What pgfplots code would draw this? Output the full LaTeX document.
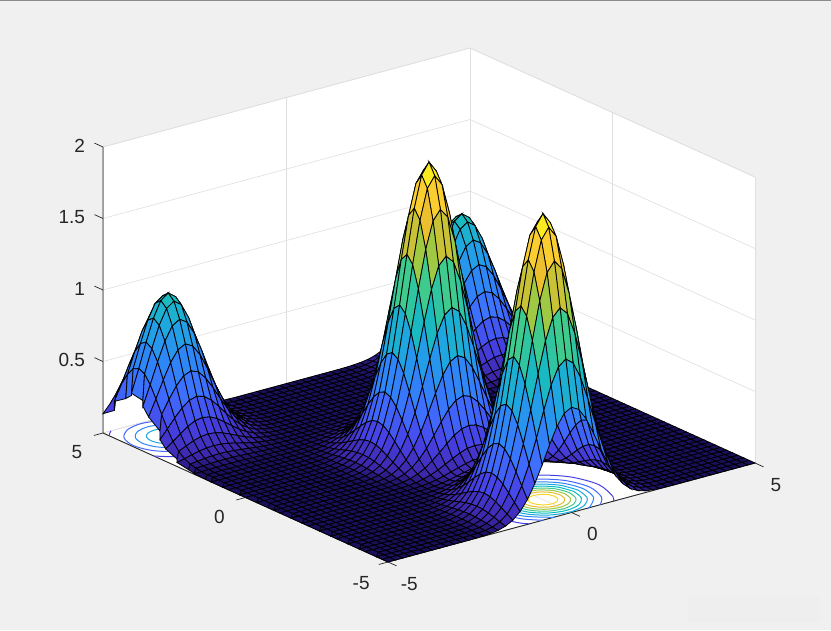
\documentclass[border=0pt]{standalone}
\usepackage{fontspec}
\setmainfont{Liberation Sans}
\usepackage{pgfplots}
\pgfplotsset{compat=1.18}
\definecolor{figbg}{HTML}{F0F0F0}
\definecolor{wmark}{HTML}{EEEEEE}
\definecolor{axdark}{HTML}{262626}
\definecolor{gridc}{HTML}{DFDFDF}
\definecolor{c1}{rgb}{.2783,.2559,.8991}
\definecolor{c2}{rgb}{.2640,.4000,.9930}
\definecolor{c3}{rgb}{.1786,.5289,.9682}
\definecolor{c4}{rgb}{.1113,.6635,.8763}
\definecolor{c5}{rgb}{.0200,.7360,.7530}
\definecolor{c6}{rgb}{.2400,.7900,.5650}
\definecolor{c7}{rgb}{.6174,.7876,.2612}
\definecolor{c8}{rgb}{.9100,.7320,.1850}
\definecolor{c9}{rgb}{.9850,.8300,.1800}
\begin{document}
\begin{tikzpicture}[x=1pt,y=1pt]
\path[use as bounding box] (0,0) rectangle (831,630);
\fill[figbg] (0,0) rectangle (831,630);
\fill[black!45] (0,629.3) rectangle (831,630);
\fill[wmark] (688,8) rectangle (820,33);
\fill[white] (103,197) -- (103,483) -- (470,582) -- (755,453) -- (755,167) -- (388,68) -- cycle;
\begin{axis}[
  at={(429pt,182pt)}, anchor=origin,
  x={(36.7pt,9.9pt)}, y={(-28.5pt,12.9pt)}, z={(0pt,143pt)},
  xmin=-5,xmax=5,ymin=-5,ymax=5,zmin=0,zmax=2,
  clip=false,
  xtick={-5,0,5},ytick={-5,0,5},ztick={0.5,1,1.5,2},
  xticklabels={-5,0,5},yticklabels={-5,0,5},zticklabels={0.5,1,1.5,2},
  grid=major, grid style={draw=gridc,line width=0.6pt},
  axis line style={draw=gridc,line width=0.6pt},
  major tick length=0pt,
  tick label style={font=\fontsize{19}{21}\selectfont,text=axdark},
  xticklabel style={xshift=14pt,yshift=-11pt},
  yticklabel style={xshift=-18pt,yshift=-9pt},
  zticklabel style={xshift=-14.5pt,yshift=0pt},
  colormap={parula}{rgb(0pt)=(.10,.06,.36) rgb(2pt)=(.2422,.1504,.6603) rgb(10pt)=(.2783,.2559,.8991) rgb(20pt)=(.2440,.4358,.9988) rgb(30pt)=(.1786,.5289,.9682) rgb(40pt)=(.1248,.6459,.8883) rgb(50pt)=(.0964,.7500,.7120) rgb(60pt)=(.2470,.7918,.5567) rgb(70pt)=(.6174,.7876,.2612) rgb(80pt)=(.9035,.7330,.1774) rgb(90pt)=(.9892,.8136,.1885) rgb(100pt)=(.9769,.9839,.0805)},
  point meta min=0, point meta max=2,
]
\addplot3[draw=axdark,line width=0.9pt,no marks] coordinates {(-5,5,2)(-5,5,0)(-5,-5,0)(5,-5,0)};
\addplot3[draw=axdark,line width=0.7pt,no marks] coordinates {
(-5,-5,0)(-5,-5.3,0)

(0,-5,0)(0,-5.3,0)

(5,-5,0)(5,-5.3,0)

(-5,-5,0)(-5.25,-5,0)

(-5,0,0)(-5.25,0,0)

(-5,5,0)(-5.25,5,0)

(-5,5,0.5)(-5,5.3,0.5)

(-5,5,1)(-5,5.3,1)

(-5,5,1.5)(-5,5.3,1.5)

(-5,5,2)(-5,5.3,2)
};
\addplot3[c1,no marks,smooth,line width=1pt] coordinates {(1.141,-5,0)(1.314,-4.759,0)(1.517,-4,0)(1.314,-3.241,0)(.759,-2.686,0)(0,-2.483,0)(-.759,-2.686,0)(-1.314,-3.241,0)(-1.517,-4,0)(-1.314,-4.759,0)(-1.141,-5,0)};
\addplot3[c2,no marks,smooth,line width=1pt] coordinates {(.781,-5,0)(1.099,-4.635,0)(1.269,-4,0)(1.099,-3.365,0)(.635,-2.901,0)(0,-2.731,0)(-.635,-2.901,0)(-1.099,-3.365,0)(-1.269,-4,0)(-1.099,-4.635,0)(-.781,-5,0)};
\addplot3[c3,no marks,smooth,line width=1pt] coordinates {(.451,-5,0)(.549,-4.95,0)(.95,-4.549,0)(1.097,-4,0)(.95,-3.451,0)(.549,-3.05,0)(0,-2.903,0)(-.549,-3.05,0)(-.95,-3.451,0)(-1.097,-4,0)(-.95,-4.549,0)(-.549,-4.95,0)(-.451,-5,0)};
\addplot3[c4,no marks,smooth,line width=1pt] coordinates {(.957,-4,0)(.829,-3.521,0)(.479,-3.171,0)(0,-3.043,0)(-.479,-3.171,0)(-.829,-3.521,0)(-.957,-4,0)(-.829,-4.479,0)(-.479,-4.829,0)(0,-4.957,0)(.479,-4.829,0)(.829,-4.479,0)(.957,-4,0)};
\addplot3[c5,no marks,smooth,line width=1pt] coordinates {(.833,-4,0)(.721,-3.583,0)(.417,-3.279,0)(0,-3.167,0)(-.417,-3.279,0)(-.721,-3.583,0)(-.833,-4,0)(-.721,-4.417,0)(-.417,-4.721,0)(0,-4.833,0)(.417,-4.721,0)(.721,-4.417,0)(.833,-4,0)};
\addplot3[c6,no marks,smooth,line width=1pt] coordinates {(.715,-4,0)(.619,-3.642,0)(.358,-3.381,0)(0,-3.285,0)(-.358,-3.381,0)(-.619,-3.642,0)(-.715,-4,0)(-.619,-4.358,0)(-.358,-4.619,0)(0,-4.715,0)(.358,-4.619,0)(.619,-4.358,0)(.715,-4,0)};
\addplot3[c7,no marks,smooth,line width=1pt] coordinates {(.597,-4,0)(.517,-3.701,0)(.299,-3.483,0)(0,-3.403,0)(-.299,-3.483,0)(-.517,-3.701,0)(-.597,-4,0)(-.517,-4.299,0)(-.299,-4.517,0)(0,-4.597,0)(.299,-4.517,0)(.517,-4.299,0)(.597,-4,0)};
\addplot3[c8,no marks,smooth,line width=1pt] coordinates {(.472,-4,0)(.409,-3.764,0)(.236,-3.591,0)(0,-3.528,0)(-.236,-3.591,0)(-.409,-3.764,0)(-.472,-4,0)(-.409,-4.236,0)(-.236,-4.409,0)(0,-4.472,0)(.236,-4.409,0)(.409,-4.236,0)(.472,-4,0)};
\addplot3[c9,no marks,smooth,line width=1pt] coordinates {(.325,-4,0)(.281,-3.837,0)(.163,-3.719,0)(0,-3.675,0)(-.163,-3.719,0)(-.281,-3.837,0)(-.325,-4,0)(-.281,-4.163,0)(-.163,-4.281,0)(0,-4.325,0)(.163,-4.281,0)(.281,-4.163,0)(.325,-4,0)};
\addplot3[c1,no marks,smooth,line width=1pt] coordinates {(-3.219,5,0)(-2.901,4.635,0)(-2.731,4,0)(-2.901,3.365,0)(-3.365,2.901,0)(-4,2.731,0)(-4.635,2.901,0)(-5,3.219,0)};
\addplot3[c1,no marks,smooth,line width=1pt] coordinates {(-4.781,5,0)(-4.897,4.897,0)(-5,4.781,0)};
\addplot3[c2,no marks,smooth,line width=1pt] coordinates {(-3.043,4,0)(-3.171,4.479,0)(-3.521,4.829,0)(-4,4.957,0)(-4.479,4.829,0)(-4.829,4.479,0)(-4.957,4,0)(-4.829,3.521,0)(-4.479,3.171,0)(-4,3.043,0)(-3.521,3.171,0)(-3.171,3.521,0)(-3.043,4,0)};
\addplot3[c3,no marks,smooth,line width=1pt] coordinates {(-3.285,4,0)(-3.381,4.358,0)(-3.642,4.619,0)(-4,4.715,0)(-4.358,4.619,0)(-4.619,4.358,0)(-4.715,4,0)(-4.619,3.642,0)(-4.358,3.381,0)(-4,3.285,0)(-3.642,3.381,0)(-3.381,3.642,0)(-3.285,4,0)};
\addplot3[c4,no marks,smooth,line width=1pt] coordinates {(-3.528,4,0)(-3.591,4.236,0)(-3.764,4.409,0)(-4,4.472,0)(-4.236,4.409,0)(-4.409,4.236,0)(-4.472,4,0)(-4.409,3.764,0)(-4.236,3.591,0)(-4,3.528,0)(-3.764,3.591,0)(-3.591,3.764,0)(-3.528,4,0)};
\addplot3[surf,shader=faceted,faceted color=black,line width=0.8pt,mesh/rows=51,mesh/cols=51,point meta=z] table[x expr={-5+0.2*mod(\coordindex,51)},y expr={-5+0.2*floor(\coordindex/51)},z index=0,header=false] {
%j0
0
0
0
0
0
%5
0
0
0
0
0
%10
0
0
%12
0.001
0.002
0.006
0.013
0.029
0.057
0.104
0.174
0.271
0.388
0.513
0.627
0.707
0.736
0.707
0.627
0.513
0.388
0.271
0.174
0.104
0.057
0.029
0.013
0.006
0.002
0.001
%12
0
0
0
0
0
%5
0
0
0
0
0
%10
0
0
%j1
0
0
0
0
0
%5
0
0
0
0
0
%10
0
0
%12
0.001
0.003
0.008
0.019
0.041
0.082
0.149
0.250
0.388
0.556
0.736
0.899
1.013
1.055
1.013
0.899
0.736
0.556
0.388
0.250
0.149
0.082
0.041
0.019
0.008
0.003
0.001
%12
0
0
0
0
0
%5
0
0
0
0
0
%10
0
0
%j2
0
0
0
0
0
%5
0
0
0
0
0
%10
0
0
%12
0.002
0.004
0.011
0.026
0.055
0.108
0.197
0.331
0.513
0.736
0.974
1.189
1.341
1.395
1.341
1.189
0.974
0.736
0.513
0.331
0.197
0.108
0.055
0.026
0.011
0.004
0.002
%12
0
0
0
0
0
%5
0
0
0
0
0
%10
0
0
%j3
0
0
0
0
0
%5
0
0
0
0
0
%10
0
0
%12
0.002
0.005
0.013
0.031
0.067
0.132
0.240
0.404
0.627
0.899
1.189
1.452
1.637
1.704
1.637
1.452
1.189
0.899
0.627
0.404
0.240
0.132
0.067
0.031
0.013
0.005
0.002
%12
0
0
0
0
0
%5
0
0
0
0
0
%10
0
0
%j4
0
0
0
0
0
%5
0
0
0
0
0
%10
0
0
%12
0.002
0.006
0.015
0.035
0.075
0.149
0.271
0.455
0.707
1.013
1.341
1.637
1.846
1.922
1.846
1.637
1.341
1.013
0.707
0.455
0.271
0.149
0.075
0.035
0.015
0.006
0.002
%12
0
0
0
0
0
%5
0
0
0
0
0
%10
0
0
%j5
0
0
0
0
0
%5
0
0
0
0
0
%10
0
0
%12
0.002
0.006
0.016
0.037
0.078
0.155
0.282
0.474
0.736
1.055
1.395
1.704
1.922
2
1.922
1.704
1.395
1.055
0.736
0.474
0.282
0.155
0.078
0.037
0.016
0.006
0.002
%12
0
0
0
0
0
%5
0
0
0
0
0
%10
0
0
%j6
0
0
0
0
0
%5
0
0
0
0
0
%10
0
0
%12
0.002
0.006
0.015
0.035
0.075
0.149
0.271
0.455
0.707
1.013
1.341
1.637
1.846
1.922
1.846
1.637
1.341
1.013
0.707
0.455
0.271
0.149
0.075
0.035
0.015
0.006
0.002
%12
0
0
0
0
0
%5
0
0
0
0
0
%10
0
0
%j7
0
0
0
0
0
%5
0
0
0
0
0
%10
0
0
%12
0.002
0.005
0.013
0.031
0.067
0.132
0.240
0.404
0.627
0.899
1.189
1.452
1.637
1.704
1.637
1.452
1.189
0.899
0.627
0.404
0.240
0.132
0.067
0.031
0.013
0.005
0.002
%12
0
0
0
0
0
%5
0
0
0
0
0
%10
0
0
%j8
0
0
0
0
0
%5
0
0
0
0
0
%10
0
0
%12
0.002
0.004
0.011
0.026
0.055
0.108
0.197
0.331
0.513
0.736
0.974
1.189
1.341
1.395
1.341
1.189
0.974
0.736
0.513
0.331
0.197
0.108
0.055
0.026
0.011
0.004
0.002
%12
0
0
0
0
0
%5
0
0
0
0
0
%10
0
0
%j9
0
0
0
0
0
%5
0
0
0
0
0
%10
0
0
%12
0.001
0.003
0.008
0.019
0.041
0.082
0.149
0.250
0.388
0.556
0.736
0.899
1.013
1.055
1.013
0.899
0.736
0.556
0.388
0.250
0.149
0.082
0.041
0.019
0.008
0.003
0.001
%12
0
0
0
0
0
%5
0
0
0
0
0
%10
0
0
%j10
0
0
0
0
0
%5
0
0
0
0
0
%10
0
0
%12
0.001
0.002
0.006
0.013
0.029
0.057
0.104
0.174
0.271
0.388
0.513
0.627
0.707
0.736
0.707
0.627
0.513
0.388
0.271
0.174
0.104
0.057
0.029
0.013
0.006
0.002
0.001
%12
0
0
0
0
0
%5
0
0
0
0
0
%10
0
0
%j11
0
0
0
0
0
%5
0
0
0
0
0
%10
0
0
%12
0.001
0.002
0.004
0.009
0.019
0.037
0.067
0.112
0.174
0.250
0.331
0.404
0.455
0.474
0.455
0.404
0.331
0.250
0.174
0.112
0.067
0.037
0.019
0.009
0.004
0.002
0.001
%12
0
0
0
0
0
%5
0
0
0
0
0
%10
0
0
%j12
0
0
0
0
0
%5
0
0
0
0
0
%10
0
0
%12
0
0.001
0.002
0.005
0.011
0.022
0.040
0.067
0.105
0.150
0.198
0.242
0.273
0.284
0.273
0.242
0.198
0.150
0.105
0.067
0.040
0.022
0.011
0.005
0.002
0.001
0
%12
0
0
0
0
0
%5
0
0
0
0
0
%10
0
0
%j13
0
0
0
0
0
%5
0
0
0
0
0
%10
0
0
%12
0
0.001
0.001
0.003
0.006
0.012
0.023
0.038
0.059
0.085
0.112
0.137
0.155
0.161
0.155
0.137
0.112
0.085
0.059
0.038
0.023
0.012
0.006
0.003
0.001
0.001
0
%12
0
0
0
0
0
%5
0
0
0
0
0
%10
0
0
%j14
0
0
0
0
0
%5
0
0
0
0
0
%10
0
0
%12
0
0
0.001
0.002
0.004
0.007
0.013
0.022
0.035
0.050
0.066
0.080
0.091
0.094
0.091
0.080
0.066
0.050
0.035
0.022
0.013
0.007
0.004
0.002
0.001
0
0
%12
0
0
0
0
0
%5
0
0
0
0
0
%10
0
0
%j15
0
0
0
0
0
%5
0
0
0
0
0
%10
0
0
%12
0
0
0.001
0.001
0.003
0.006
0.010
0.017
0.027
0.039
0.051
0.062
0.070
0.073
0.070
0.062
0.051
0.039
0.027
0.017
0.010
0.006
0.003
0.001
0.001
0
0
%12
0
0
0
0
0
%5
0
0
0
0
0
%10
0
0
%j16
0
0
0
0
0
%5
0
0
0
0
0
%10
0
0
%12
0
0
0.001
0.002
0.004
0.007
0.013
0.022
0.035
0.050
0.066
0.080
0.091
0.094
0.091
0.080
0.066
0.050
0.035
0.022
0.013
0.007
0.004
0.002
0.001
0
0
%12
0
0
0
0
0
%5
0
0
0
0
0
%10
0
0
%j17
0
0
0
0
0
%5
0
0
0
0
0
%10
0
0
%12
0
0.001
0.001
0.003
0.006
0.012
0.023
0.038
0.059
0.085
0.112
0.137
0.155
0.161
0.155
0.137
0.112
0.085
0.059
0.038
0.023
0.012
0.006
0.003
0.001
0.001
0
%12
0
0
0
0
0
%5
0
0
0
0
0
%10
0
0
%j18
0
0
0
0
0
%5
0
0
0
0
0
%10
0
0
%12
0
0.001
0.002
0.005
0.011
0.022
0.040
0.067
0.105
0.150
0.198
0.242
0.273
0.284
0.273
0.242
0.198
0.150
0.105
0.067
0.040
0.022
0.011
0.005
0.002
0.001
0
%12
0
0
0
0
0
%5
0
0
0
0
0
%10
0
0
%j19
0
0
0
0
0
%5
0
0
0
0
0
%10
0
0
%12
0.001
0.002
0.004
0.009
0.019
0.037
0.067
0.112
0.174
0.250
0.331
0.404
0.455
0.474
0.455
0.404
0.331
0.250
0.174
0.112
0.067
0.037
0.019
0.009
0.004
0.002
0.001
%12
0
0
0
0
0
%5
0
0
0
0
0
%10
0
0
%j20
0
0
0
0
0
%5
0
0
0
0
0
%10
0
0
%12
0.001
0.002
0.006
0.013
0.029
0.057
0.104
0.174
0.271
0.388
0.513
0.627
0.707
0.736
0.707
0.627
0.513
0.388
0.271
0.174
0.104
0.057
0.029
0.013
0.006
0.002
0.001
%12
0
0
0
0
0
%5
0
0
0
0
0
%10
0
0
%j21
0
0
0
0
0
%5
0
0
0
0
0
%10
0
0
%12
0.001
0.003
0.008
0.019
0.041
0.082
0.149
0.250
0.388
0.556
0.736
0.899
1.013
1.055
1.013
0.899
0.736
0.556
0.388
0.250
0.149
0.082
0.041
0.019
0.008
0.003
0.001
%12
0
0
0
0
0
%5
0
0
0
0
0
%10
0
0
%j22
0
0
0
0
0
%5
0
0
0
0
0
%10
0
0
%12
0.002
0.004
0.011
0.026
0.055
0.108
0.197
0.331
0.513
0.736
0.974
1.189
1.341
1.395
1.341
1.189
0.974
0.736
0.513
0.331
0.197
0.108
0.055
0.026
0.011
0.004
0.002
%12
0
0
0
0
0
%5
0
0
0
0
0
%10
0
0
%j23
0
0
0
0
0
%5
0
0
0
0
0
%10
0
0
%12
0.002
0.005
0.013
0.031
0.067
0.132
0.240
0.404
0.627
0.899
1.189
1.452
1.637
1.704
1.637
1.452
1.189
0.899
0.627
0.404
0.240
0.132
0.067
0.031
0.013
0.005
0.002
%12
0
0
0
0
0
%5
0
0
0
0
0
%10
0
0
%j24
0
0
0
0
0
%5
0
0
0
0
0
%10
0
0
%12
0.002
0.006
0.015
0.035
0.075
0.149
0.271
0.455
0.707
1.013
1.341
1.637
1.846
1.922
1.846
1.637
1.341
1.013
0.707
0.455
0.271
0.149
0.075
0.035
0.015
0.006
0.002
%12
0
0
0
0
0
%5
0
0
0
0
0
%10
0
0
%j25
0
0
0
0
0
%5
0
0
0
0
0
%10
0
0
%12
0.002
0.006
0.016
0.037
0.078
0.155
0.282
0.474
0.736
1.055
1.395
1.704
1.922
2
1.922
1.704
1.395
1.055
0.736
0.474
0.282
0.155
0.078
0.037
0.016
0.006
0.002
%12
0
0
0
0
0
%5
0
0
0
0
0
%10
0
0
%j26
0
0
0
0
0
%5
0
0
0
0
0
%10
0
0
%12
0.002
0.006
0.015
0.035
0.075
0.149
0.271
0.455
0.707
1.013
1.341
1.637
1.846
1.922
1.846
1.637
1.341
1.013
0.707
0.455
0.271
0.149
0.075
0.035
0.015
0.006
0.002
%12
0
0
0
0
0
%5
0
0
0
0
0
%10
0
0
%j27
0
0
0
0
0
%5
0
0
0
0
0
%10
0
0
%12
0.002
0.005
0.013
0.031
0.067
0.132
0.240
0.404
0.627
0.899
1.189
1.452
1.637
1.704
1.637
1.452
1.189
0.899
0.627
0.404
0.240
0.132
0.067
0.031
0.013
0.005
0.002
%12
0
0
0
0
0
%5
0
0
0
0
0
%10
0
0
%j28
0
0
0
0
0
%5
0
0
0
0
0
%10
0
0
%12
0.002
0.004
0.011
0.026
0.055
0.108
0.197
0.331
0.513
0.736
0.974
1.189
1.341
1.395
1.341
1.189
0.974
0.736
0.513
0.331
0.197
0.108
0.055
0.026
0.011
0.004
0.002
%12
0
0
0
0
0
%5
0
0
0
0
0
%10
0
0
%j29
0
0
0
0
0
%5
0
0
0
0
0
%10
0
0
%12
0.001
0.003
0.008
0.019
0.041
0.082
0.149
0.250
0.388
0.556
0.736
0.899
1.013
1.055
1.013
0.899
0.736
0.556
0.388
0.250
0.149
0.082
0.041
0.019
0.008
0.003
0.001
%12
0
0
0
0
0
%5
0
0
0
0
0
%10
0
0
%j30
0
0
0
0
0
%5
0
0
0
0
0
%10
0
0
%12
0.001
0.002
0.006
0.013
0.029
0.057
0.104
0.174
0.271
0.388
0.513
0.627
0.707
0.736
0.707
0.627
0.513
0.388
0.271
0.174
0.104
0.057
0.029
0.013
0.006
0.002
0.001
%12
0
0
0
0
0
%5
0
0
0
0
0
%10
0
0
%j31
0
0
0
0
0
%5
0
0
0
0
0
%10
0
0
%12
0.001
0.002
0.004
0.009
0.019
0.037
0.067
0.112
0.174
0.250
0.331
0.404
0.455
0.474
0.455
0.404
0.331
0.250
0.174
0.112
0.067
0.037
0.019
0.009
0.004
0.002
0.001
%12
0
0
0
0
0
%5
0
0
0
0
0
%10
0
0
%j32
0
0.001
0.001
0.001
0.001
0.001
0.001
0.001
0.001
0.001
0
0
%12
0
0.001
0.002
0.005
0.011
0.022
0.040
0.067
0.104
0.149
0.197
0.240
0.271
0.282
0.271
0.240
0.197
0.149
0.104
0.067
0.040
0.022
0.011
0.005
0.002
0.001
0
%12
0
0
0.001
0.001
0.001
0.001
0.001
0.001
0.001
0.001
0.001
0
%j33
0.001
0.002
0.002
0.003
0.003
0.003
0.003
0.003
0.002
0.002
0.001
0.001
%12
0
0
0.001
0.003
0.006
0.012
0.022
0.037
0.057
0.082
0.108
0.132
0.149
0.155
0.149
0.132
0.108
0.082
0.057
0.037
0.022
0.012
0.006
0.003
0.001
0
0
%12
0.001
0.001
0.002
0.002
0.003
0.003
0.003
0.003
0.003
0.002
0.002
0.001
%j34
0.003
0.004
0.006
0.007
0.008
0.008
0.008
0.007
0.006
0.004
0.003
0.002
%12
0.001
0.001
0.001
0.001
0.003
0.006
0.011
0.019
0.029
0.041
0.055
0.067
0.075
0.078
0.075
0.067
0.055
0.041
0.029
0.019
0.011
0.006
0.003
0.001
0.001
0.001
0.001
%12
0.002
0.003
0.004
0.006
0.007
0.008
0.008
0.008
0.007
0.006
0.004
0.003
%j35
0.007
0.010
0.013
0.016
0.018
0.018
0.018
0.016
0.013
0.010
0.007
0.004
%12
0.003
0.001
0.001
0.001
0.001
0.003
0.005
0.009
0.013
0.019
0.026
0.031
0.035
0.037
0.035
0.031
0.026
0.019
0.013
0.009
0.005
0.003
0.001
0.001
0.001
0.001
0.003
%12
0.004
0.007
0.010
0.013
0.016
0.018
0.018
0.018
0.016
0.013
0.010
0.007
%j36
0.014
0.021
0.027
0.033
0.038
0.039
0.038
0.033
0.027
0.021
0.014
0.009
%12
0.006
0.003
0.002
0.001
0.001
0.001
0.002
0.004
0.006
0.008
0.011
0.013
0.015
0.016
0.015
0.013
0.011
0.008
0.006
0.004
0.002
0.001
0.001
0.001
0.002
0.003
0.006
%12
0.009
0.014
0.021
0.027
0.033
0.038
0.039
0.038
0.033
0.027
0.021
0.014
%j37
0.028
0.041
0.054
0.066
0.074
0.077
0.074
0.066
0.054
0.041
0.028
0.018
%12
0.011
0.006
0.003
0.001
0.001
0
0.001
0.002
0.002
0.003
0.004
0.005
0.006
0.006
0.006
0.005
0.004
0.003
0.002
0.002
0.001
0
0.001
0.001
0.003
0.006
0.011
%12
0.018
0.028
0.041
0.054
0.066
0.074
0.077
0.074
0.066
0.054
0.041
0.028
%j38
0.052
0.074
0.098
0.120
0.135
0.141
0.135
0.120
0.098
0.074
0.052
0.033
%12
0.020
0.011
0.006
0.003
0.001
0
0
0
0.001
0.001
0.002
0.002
0.002
0.002
0.002
0.002
0.002
0.001
0.001
0
0
0
0.001
0.003
0.006
0.011
0.020
%12
0.033
0.052
0.074
0.098
0.120
0.135
0.141
0.135
0.120
0.098
0.074
0.052
%j39
0.087
0.125
0.165
0.202
0.228
0.237
0.228
0.202
0.165
0.125
0.087
0.056
%12
0.033
0.018
0.009
0.004
0.002
0.001
0
0
0
0
0
0.001
0.001
0.001
0.001
0.001
0
0
0
0
0
0.001
0.002
0.004
0.009
0.018
0.033
%12
0.056
0.087
0.125
0.165
0.202
0.228
0.237
0.228
0.202
0.165
0.125
0.087
%j40
0.135
0.194
0.257
0.313
0.353
0.368
0.353
0.313
0.257
0.194
0.135
0.087
0.052
0.028
0.014
0.007
0.003
0.001
%18
0
0
0
0
0
%5
0
0
0
0
0
%10
0
0
0
0
0
%15
0.001
0.003
0.007
0.014
0.028
0.052
0.087
0.135
0.194
0.257
0.313
0.353
0.368
0.353
0.313
0.257
0.194
0.135
%j41
0.194
0.278
0.368
0.449
0.507
0.527
0.507
0.449
0.368
0.278
0.194
0.125
0.074
0.041
0.021
0.010
0.004
0.002
0.001
%19
0
0
0
0
0
%5
0
0
0
0
0
%10
0
0
0
%13
0.001
0.002
0.004
0.010
0.021
0.041
0.074
0.125
0.194
0.278
0.368
0.449
0.507
0.527
0.507
0.449
0.368
0.278
0.194
%j42
0.257
0.368
0.487
0.595
0.670
0.698
0.670
0.595
0.487
0.368
0.257
0.165
0.098
0.054
0.027
0.013
0.006
0.002
0.001
%19
0
0
0
0
0
%5
0
0
0
0
0
%10
0
0
0
%13
0.001
0.002
0.006
0.013
0.027
0.054
0.098
0.165
0.257
0.368
0.487
0.595
0.670
0.698
0.670
0.595
0.487
0.368
0.257
%j43
0.313
0.449
0.595
0.726
0.819
0.852
0.819
0.726
0.595
0.449
0.313
0.202
0.120
0.066
0.033
0.016
0.007
0.003
0.001
%19
0
0
0
0
0
%5
0
0
0
0
0
%10
0
0
0
%13
0.001
0.003
0.007
0.016
0.033
0.066
0.120
0.202
0.313
0.449
0.595
0.726
0.819
0.852
0.819
0.726
0.595
0.449
0.313
%j44
0.353
0.507
0.670
0.819
0.923
0.961
0.923
0.819
0.670
0.507
0.353
0.228
0.135
0.074
0.038
0.018
0.008
0.003
0.001
%19
0
0
0
0
0
%5
0
0
0
0
0
%10
0
0
0
%13
0.001
0.003
0.008
0.018
0.038
0.074
0.135
0.228
0.353
0.507
0.670
0.819
0.923
0.961
0.923
0.819
0.670
0.507
0.353
%j45
0.368
0.527
0.698
0.852
0.961
1
0.961
0.852
0.698
0.527
0.368
0.237
0.141
0.077
0.039
0.018
0.008
0.003
0.001
%19
0
0
0
0
0
%5
0
0
0
0
0
%10
0
0
0
%13
0.001
0.003
0.008
0.018
0.039
0.077
0.141
0.237
0.368
0.527
0.698
0.852
0.961
1
0.961
0.852
0.698
0.527
0.368
%j46
0.353
0.507
0.670
0.819
0.923
0.961
0.923
0.819
0.670
0.507
0.353
0.228
0.135
0.074
0.038
0.018
0.008
0.003
0.001
%19
0
0
0
0
0
%5
0
0
0
0
0
%10
0
0
0
%13
0.001
0.003
0.008
0.018
0.038
0.074
0.135
0.228
0.353
0.507
0.670
0.819
0.923
0.961
0.923
0.819
0.670
0.507
0.353
%j47
0.313
0.449
0.595
0.726
0.819
0.852
0.819
0.726
0.595
0.449
0.313
0.202
0.120
0.066
0.033
0.016
0.007
0.003
0.001
%19
0
0
0
0
0
%5
0
0
0
0
0
%10
0
0
0
%13
0.001
0.003
0.007
0.016
0.033
0.066
0.120
0.202
0.313
0.449
0.595
0.726
0.819
0.852
0.819
0.726
0.595
0.449
0.313
%j48
0.257
0.368
0.487
0.595
0.670
0.698
0.670
0.595
0.487
0.368
0.257
0.165
0.098
0.054
0.027
0.013
0.006
0.002
0.001
%19
0
0
0
0
0
%5
0
0
0
0
0
%10
0
0
0
%13
0.001
0.002
0.006
0.013
0.027
0.054
0.098
0.165
0.257
0.368
0.487
0.595
0.670
0.698
0.670
0.595
0.487
0.368
0.257
%j49
0.194
0.278
0.368
0.449
0.507
0.527
0.507
0.449
0.368
0.278
0.194
0.125
0.074
0.041
0.021
0.010
0.004
0.002
0.001
%19
0
0
0
0
0
%5
0
0
0
0
0
%10
0
0
0
%13
0.001
0.002
0.004
0.010
0.021
0.041
0.074
0.125
0.194
0.278
0.368
0.449
0.507
0.527
0.507
0.449
0.368
0.278
0.194
%j50
0.135
0.194
0.257
0.313
0.353
0.368
0.353
0.313
0.257
0.194
0.135
0.087
0.052
0.028
0.014
0.007
0.003
0.001
%18
0
0
0
0
0
%5
0
0
0
0
0
%10
0
0
0
0
0
%15
0.001
0.003
0.007
0.014
0.028
0.052
0.087
0.135
0.194
0.257
0.313
0.353
0.368
0.353
0.313
0.257
0.194
0.135
};
\end{axis}
\end{tikzpicture}
\end{document}
